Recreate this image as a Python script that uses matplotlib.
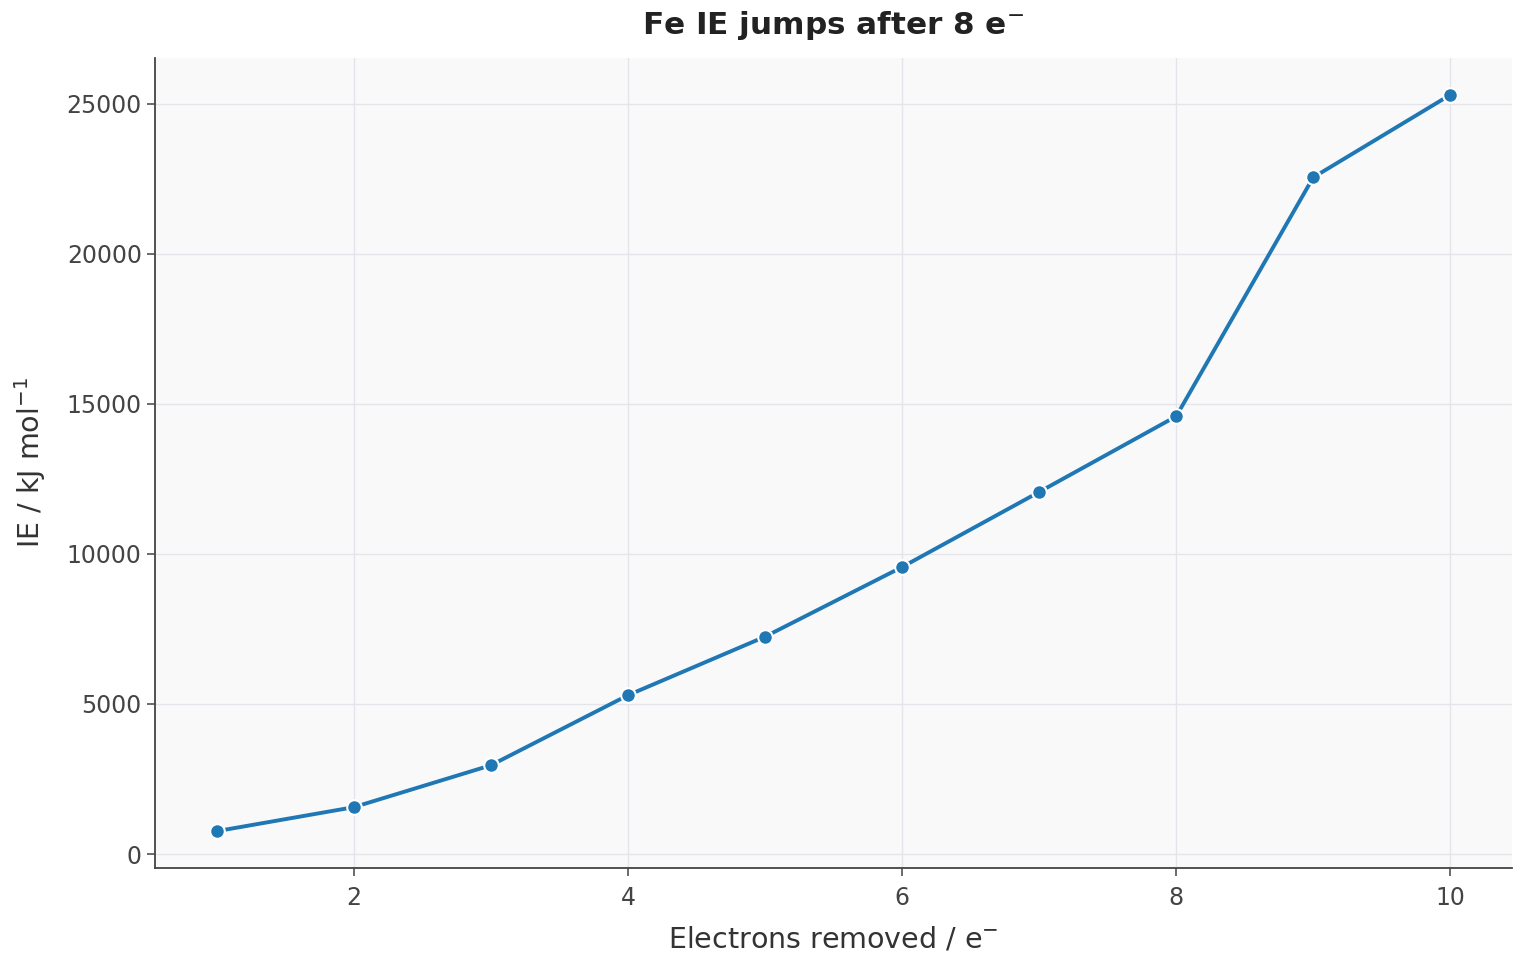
import matplotlib
matplotlib.use('Agg')
import matplotlib.pyplot as plt

# Fe successive ionisation energies
electrons = [1, 2, 3, 4, 5, 6, 7, 8, 9, 10]
ie_kj = [762.5, 1561.9, 2957, 5290, 7240, 9560, 12060, 14580, 22540, 25290]

fig = plt.figure(figsize=(15.2, 9.6), dpi=100)
ax = fig.add_axes([155/1520, 1 - 868/960, (1512-155)/1520, (868-58)/960])
ax.set_facecolor('#f9f9fa')

ax.plot(electrons, ie_kj, color='#1f77b4', lw=2.8, marker='o', ms=10.5,
        mfc='#1f77b4', mec='white', mew=1.5, zorder=3)

ax.grid(True, color='#e3e5ea', lw=1.0)
ax.set_axisbelow(True)
for s in ['top', 'right']:
    ax.spines[s].set_visible(False)
for s in ['left', 'bottom']:
    ax.spines[s].set_color('#444444')
    ax.spines[s].set_linewidth(1.3)
ax.tick_params(colors='#444444', labelsize=17, length=6, width=1.1)
ax.tick_params(axis='x', pad=7)

ax.set_xlabel('Electrons removed / e$^{-}$', fontsize=20.5, color='#333333', labelpad=11)
ax.set_ylabel('IE / kJ mol$^{-1}$', fontsize=20.5, color='#333333', labelpad=13)
ax.set_title('Fe IE jumps after 8 e$^{-}$', fontsize=22.4, fontweight='bold',
             color='#222222', pad=17)

fig.savefig('out.png', dpi=100)
